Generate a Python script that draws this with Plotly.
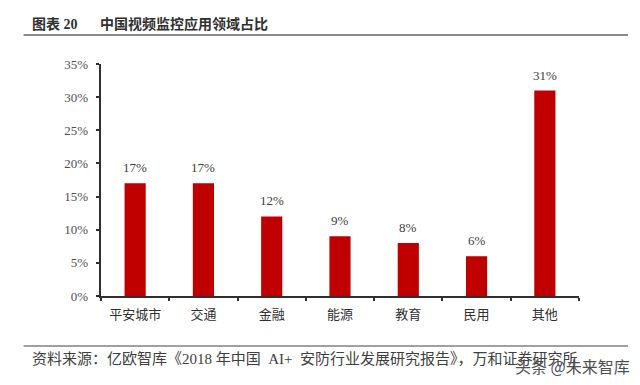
import plotly.graph_objects as go

categories = ["平安城市", "交通", "金融", "能源", "教育", "民用", "其他"]
values = [17, 17, 12, 9, 8, 6, 31]
data_labels = ["17%", "17%", "12%", "9%", "8%", "6%", "31%"]
tick_vals = [0, 5, 10, 15, 20, 25, 30, 35]
tick_text = ["0%", "5%", "10%", "15%", "20%", "25%", "30%", "35%"]
title_left = "图表 20"
title_right = "中国视频监控应用领域占比"
source_text = "资料来源：亿欧智库《2018 年中国\u00a0 AI+\u00a0 安防行业发展研究报告》，万和证券研究所"
watermark_text = "头条 @未来智库"

# The page has an 8px body margin, so the figure is 8px smaller and starts at (8, 8)
W, H = 632, 377
CJK = "Liberation Serif, Noto Sans CJK SC"
PX0, PY0, PW, PH = 100.5, 296, 478.5, 232


def px(x):
    return (x - PX0) / PW


def py(y):
    return (PY0 - y) / PH


fig = go.Figure(go.Bar(
    x=categories, y=values,
    marker=dict(color="#C00000", line_width=0), width=0.31,
))
axis_line = dict(showline=True, linecolor="#303030", linewidth=1.5, ticks="outside",
                 ticklen=3.5, tickcolor="#303030", tickwidth=1.5, showgrid=False, zeroline=False)
annotations = [
    dict(x=c, y=v, text=t, xref="x", yref="y", showarrow=False, yanchor="bottom", yshift=6,
         font=dict(family=CJK, size=13, color="#404040"))
    for c, v, t in zip(categories, values, data_labels)
]
annotations += [
    dict(text="<b>" + title_left + "</b>", xref="paper", yref="paper", xanchor="left", yanchor="middle",
         x=px(29), y=py(24), showarrow=False, font=dict(family=CJK, size=14, color="#303030")),
    dict(text="<b>" + title_right + "</b>", xref="paper", yref="paper", xanchor="left", yanchor="middle",
         x=px(97), y=py(24), showarrow=False, font=dict(family=CJK, size=14, color="#303030")),
    dict(text=source_text, xref="paper", yref="paper", xanchor="left", yanchor="middle",
         x=px(29), y=py(358), showarrow=False, font=dict(family=CJK, size=15, color="#404040")),
    dict(text=watermark_text, xref="paper", yref="paper", xanchor="right", yanchor="middle",
         x=px(632), y=py(366), showarrow=False, font=dict(family="Noto Sans CJK SC", size=16, color="#505050")),
]
fig.update_layout(
    width=W, height=H, autosize=False, showlegend=False,
    paper_bgcolor="white", plot_bgcolor="white",
    margin=dict(l=PX0 - 8, r=W - (PX0 - 8) - PW, t=PY0 - PH - 8, b=H - (PY0 - 8)),
    xaxis=dict(type="category", tickmode="array", tickvals=categories, tickson="boundaries",
               ticklabelstandoff=6,
               tickfont=dict(family=CJK, size=13, color="#303030"), **axis_line),
    yaxis=dict(range=[0, 35], tickmode="array", tickvals=tick_vals, ticktext=tick_text,
               ticklabelstandoff=5,
               tickfont=dict(family=CJK, size=13, color="#505050"), **axis_line),
    shapes=[
        dict(type="line", xref="paper", yref="paper", x0=px(23), x1=px(628), y0=py(35), y1=py(35),
             line=dict(color="#606060", width=1.5)),
        dict(type="line", xref="paper", yref="paper", x0=px(23), x1=px(628), y0=py(346), y1=py(346),
             line=dict(color="#808080", width=1.5)),
    ],
    annotations=annotations,
)
fig.write_html("out.html")
